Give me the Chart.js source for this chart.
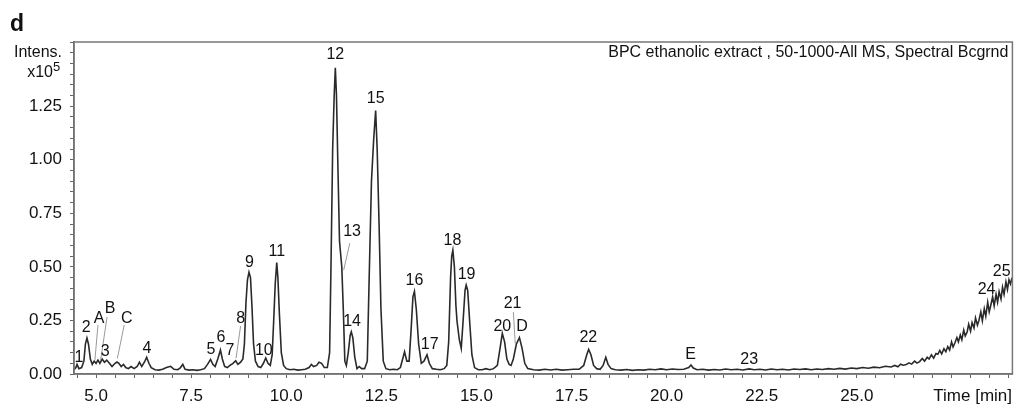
<!DOCTYPE html>
<html>
<head>
<meta charset="utf-8">
<script src="https://cdn.jsdelivr.net/npm/chart.js@4.4.0/dist/chart.umd.min.js"></script>
<style>
    body { margin: 0; background: #fff; }
    canvas { display: block; }
</style>
</head>
<body>
<canvas id="graphBPC" width="1017" height="404"></canvas>
<script>
//Datos del cromatograma (tiempo en min, intensidad en x10^5)
const tiempos = [
    4.42, 4.47, 4.50, 4.55, 4.62, 4.68, 4.72, 4.76, 4.80, 4.85,
    4.90, 4.95, 5.00, 5.05, 5.10, 5.16, 5.22, 5.28, 5.35, 5.42,
    5.50, 5.55, 5.60, 5.66, 5.72, 5.78, 5.85, 5.92, 6.00, 6.08,
    6.14, 6.20, 6.27, 6.33, 6.39, 6.45, 6.55, 6.65, 6.75, 6.85,
    6.96, 7.05, 7.15, 7.22, 7.28, 7.34, 7.45, 7.55, 7.65, 7.75,
    7.85, 7.93, 8.01, 8.07, 8.13, 8.20, 8.27, 8.32, 8.38, 8.45,
    8.52, 8.60, 8.67, 8.73, 8.80, 8.86, 8.90, 8.94, 8.98, 9.02,
    9.06, 9.10, 9.14, 9.19, 9.26, 9.33, 9.40, 9.46, 9.52, 9.58,
    9.63, 9.67, 9.71, 9.75, 9.78, 9.82, 9.87, 9.93, 10.00, 10.10,
    10.20, 10.30, 10.40, 10.50, 10.60, 10.66, 10.72, 10.80, 10.86, 10.93,
    11.00, 11.08, 11.14, 11.18, 11.22, 11.26, 11.29, 11.32, 11.36, 11.40,
    11.46, 11.50, 11.54, 11.58, 11.63, 11.68, 11.71, 11.75, 11.80, 11.86,
    11.92, 11.98, 12.06, 12.13, 12.18, 12.24, 12.30, 12.35, 12.39, 12.44,
    12.49, 12.55, 12.62, 12.72, 12.82, 12.92, 13.00, 13.06, 13.11, 13.17,
    13.23, 13.28, 13.33, 13.37, 13.42, 13.48, 13.55, 13.62, 13.70, 13.76,
    13.84, 13.95, 14.05, 14.15, 14.22, 14.27, 14.32, 14.35, 14.38, 14.42,
    14.46, 14.49, 14.55, 14.60, 14.65, 14.70, 14.73, 14.77, 14.82, 14.88,
    14.95, 15.05, 15.15, 15.25, 15.35, 15.45, 15.55, 15.62, 15.68, 15.74,
    15.80, 15.86, 15.91, 15.97, 16.05, 16.13, 16.20, 16.27, 16.35, 16.50,
    16.65, 16.80, 16.95, 17.10, 17.25, 17.40, 17.55, 17.70, 17.82, 17.90,
    17.95, 18.01, 18.08, 18.16, 18.25, 18.33, 18.40, 18.46, 18.54, 18.65,
    18.80, 18.95, 19.10, 19.25, 19.40, 19.55, 19.70, 19.85, 20.00, 20.15,
    20.30, 20.45, 20.58, 20.64, 20.70, 20.80, 20.95, 21.10, 21.25, 21.40,
    21.55, 21.70, 21.85, 22.00, 22.17, 22.30, 22.45, 22.60, 22.75, 22.90,
    23.05, 23.20, 23.35, 23.50, 23.65, 23.80, 23.95, 24.10, 24.25, 24.40,
    24.55, 24.70, 24.85, 25.00, 25.15, 25.30, 25.45, 25.60, 25.75, 25.90,
    26.00, 26.08, 26.15, 26.22, 26.30, 26.37, 26.44, 26.52, 26.58, 26.65,
    26.72, 26.78, 26.85, 26.90, 26.96, 27.02, 27.08, 27.13, 27.18, 27.23,
    27.29, 27.34, 27.39, 27.44, 27.49, 27.53, 27.58, 27.63, 27.67, 27.72,
    27.76, 27.81, 27.85, 27.90, 27.94, 27.99, 28.03, 28.08, 28.12, 28.17,
    28.21, 28.26, 28.30, 28.35, 28.39, 28.44, 28.48, 28.52, 28.57, 28.61,
    28.66, 28.70, 28.74, 28.79, 28.83, 28.87, 28.92, 28.96, 29.00, 29.04,
    29.08
];
const intensidades = [
    0.020, 0.030, 0.045, 0.025, 0.030, 0.060, 0.140, 0.168, 0.140, 0.070,
    0.045, 0.060, 0.050, 0.065, 0.050, 0.070, 0.055, 0.065, 0.050, 0.035,
    0.050, 0.056, 0.050, 0.035, 0.045, 0.030, 0.025, 0.035, 0.025, 0.035,
    0.055, 0.035, 0.055, 0.078, 0.050, 0.030, 0.020, 0.018, 0.022, 0.030,
    0.036, 0.022, 0.020, 0.030, 0.045, 0.022, 0.018, 0.020, 0.017, 0.020,
    0.025, 0.045, 0.068, 0.045, 0.035, 0.070, 0.112, 0.070, 0.035, 0.030,
    0.040, 0.050, 0.062, 0.045, 0.055, 0.070, 0.140, 0.330, 0.440, 0.475,
    0.450, 0.310, 0.140, 0.060, 0.035, 0.030, 0.050, 0.075, 0.050, 0.040,
    0.090, 0.250, 0.420, 0.520, 0.450, 0.280, 0.100, 0.040, 0.025, 0.020,
    0.022, 0.018, 0.020, 0.022, 0.030, 0.045, 0.035, 0.040, 0.055, 0.050,
    0.030, 0.030, 0.100, 0.550, 1.050, 1.300, 1.430, 1.300, 0.950, 0.620,
    0.500, 0.300, 0.060, 0.040, 0.100, 0.180, 0.197, 0.170, 0.080, 0.025,
    0.035, 0.025, 0.025, 0.060, 0.450, 0.900, 1.100, 1.230, 1.050, 0.700,
    0.300, 0.060, 0.025, 0.020, 0.022, 0.020, 0.030, 0.070, 0.104, 0.060,
    0.060, 0.200, 0.360, 0.385, 0.300, 0.140, 0.050, 0.060, 0.090, 0.050,
    0.025, 0.022, 0.020, 0.025, 0.040, 0.150, 0.450, 0.550, 0.578, 0.500,
    0.320, 0.245, 0.160, 0.120, 0.250, 0.390, 0.415, 0.390, 0.250, 0.090,
    0.030, 0.020, 0.020, 0.025, 0.020, 0.025, 0.040, 0.120, 0.190, 0.150,
    0.070, 0.045, 0.040, 0.070, 0.140, 0.170, 0.120, 0.050, 0.025, 0.020,
    0.018, 0.022, 0.019, 0.022, 0.018, 0.020, 0.022, 0.022, 0.040, 0.090,
    0.115, 0.090, 0.040, 0.025, 0.022, 0.040, 0.078, 0.045, 0.025, 0.020,
    0.018, 0.021, 0.017, 0.020, 0.018, 0.022, 0.020, 0.024, 0.020, 0.023,
    0.021, 0.022, 0.030, 0.042, 0.028, 0.020, 0.022, 0.018, 0.021, 0.019,
    0.023, 0.020, 0.022, 0.019, 0.024, 0.020, 0.022, 0.019, 0.023, 0.020,
    0.022, 0.019, 0.023, 0.021, 0.024, 0.020, 0.023, 0.021, 0.025, 0.022,
    0.026, 0.023, 0.028, 0.025, 0.030, 0.027, 0.032, 0.029, 0.036, 0.033,
    0.040, 0.034, 0.046, 0.041, 0.044, 0.052, 0.046, 0.060, 0.051, 0.058,
    0.072, 0.060, 0.078, 0.070, 0.090, 0.074, 0.096, 0.092, 0.110, 0.094,
    0.118, 0.104, 0.128, 0.112, 0.150, 0.126, 0.146, 0.170, 0.150, 0.182,
    0.160, 0.205, 0.178, 0.196, 0.232, 0.200, 0.240, 0.215, 0.262, 0.228,
    0.250, 0.290, 0.248, 0.305, 0.270, 0.335, 0.290, 0.320, 0.360, 0.318,
    0.372, 0.335, 0.385, 0.350, 0.405, 0.372, 0.430, 0.395, 0.440, 0.420,
    0.450
];

//Etiquetas de los picos (posicion en unidades del grafico)
const picos   = ['1', '2', 'A', 'B', '3', 'C', '4', '5', '6', '7', '8', '9', '10', '11', '12', '13', '14', '15', '16', '17', '18', '19', '20', '21', 'D', '22', 'E', '23', '24', '25'];
const picosT  = [4.55, 4.74, 5.08, 5.37, 5.24, 5.81, 6.34, 8.02, 8.28, 8.52, 8.80, 9.03, 9.41, 9.75, 11.29, 11.73, 11.73, 12.35, 13.37, 13.77, 14.37, 14.74, 15.68, 15.95, 16.20, 17.94, 20.63, 22.17, 28.41, 28.81];
const picosV  = [0.075, 0.215, 0.26, 0.305, 0.103, 0.26, 0.117, 0.112, 0.168, 0.107, 0.26, 0.52, 0.107, 0.57, 1.49, 0.664, 0.244, 1.287, 0.438, 0.135, 0.625, 0.466, 0.219, 0.33, 0.219, 0.168, 0.089, 0.065, 0.392, 0.476];

//Lineas guia de algunas etiquetas [t1, v1, t2, v2]
const guias = [
    [5.05, 0.229, 4.97, 0.065],
    [5.29, 0.267, 5.12, 0.065],
    [5.74, 0.229, 5.56, 0.073],
    [8.80, 0.224, 8.68, 0.074],
    [11.67, 0.611, 11.51, 0.485],
    [15.97, 0.289, 16.02, 0.142]
];

const fuente = '"Liberation Sans", Arial, Helvetica, sans-serif';

const puntos = tiempos.map((t, i) => ({ x: t, y: intensidades[i] }));

const esMultiplo = (v, paso) => Math.abs(v / paso - Math.round(v / paso)) < 1e-6;

const pluginTextos = {
    id: 'textos',
    afterDraw(chart) {
        const { ctx, chartArea, scales } = chart;
        const x = scales.x;
        const y = scales.y;
        ctx.save();

        //Marco del grafico
        ctx.strokeStyle = '#777';
        ctx.lineWidth = 1.5;
        ctx.strokeRect(chartArea.left, chartArea.top, chartArea.right - chartArea.left, chartArea.bottom - chartArea.top);

        //Guias
        ctx.strokeStyle = '#999';
        ctx.lineWidth = 1;
        guias.forEach(g => {
            ctx.beginPath();
            ctx.moveTo(x.getPixelForValue(g[0]), y.getPixelForValue(g[1]));
            ctx.lineTo(x.getPixelForValue(g[2]), y.getPixelForValue(g[3]));
            ctx.stroke();
        });

        //Numeros de los picos
        ctx.fillStyle = '#111';
        ctx.font = '16px ' + fuente;
        ctx.textAlign = 'center';
        ctx.textBaseline = 'middle';
        picos.forEach((p, i) => {
            ctx.fillText(p, x.getPixelForValue(picosT[i]), y.getPixelForValue(picosV[i]));
        });

        //Titulo de la traza
        ctx.textBaseline = 'alphabetic';
        ctx.textAlign = 'right';
        ctx.font = '16px ' + fuente;
        ctx.fillText('BPC ethanolic extract , 50-1000-All MS, Spectral Bcgrnd', chartArea.right - 4, 57);

        //Letra del panel
        ctx.textAlign = 'left';
        ctx.font = 'bold 23px ' + fuente;
        ctx.fillText('d', 10, 31);

        //Unidades del eje Y
        ctx.textAlign = 'right';
        ctx.font = '16px ' + fuente;
        ctx.fillText('Intens.', 62, 57);
        ctx.fillText('x10', 53, 77);
        ctx.textAlign = 'left';
        ctx.font = '13px ' + fuente;
        ctx.fillText('5', 53, 71);

        //Titulo del eje X
        ctx.textAlign = 'right';
        ctx.font = '17px ' + fuente;
        ctx.fillText('Time [min]', 1012, 401);

        ctx.restore();
    }
};

const config = {
    type: 'line',
    data: {
        datasets: [{
            data: puntos,
            borderColor: '#2a2a2a',
            borderWidth: 1.6,
            pointRadius: 0,
            tension: 0,
            fill: false
        }]
    },
    options: {
        responsive: false,
        animation: false,
        layout: {
            padding: { top: 42, right: 3, left: 0, bottom: 0 }
        },
        plugins: {
            legend: { display: false },
            tooltip: { enabled: false }
        },
        scales: {
            x: {
                type: 'linear',
                min: 4.42,
                max: 29.09,
                afterFit(scale) { scale.height = 30; },
                border: { color: '#666', width: 1.5 },
                grid: { drawOnChartArea: false, tickLength: 4, tickColor: '#666' },
                ticks: {
                    stepSize: 0.5,
                    includeBounds: false,
                    autoSkip: false,
                    maxRotation: 0,
                    minRotation: 0,
                    padding: 8,
                    color: '#111',
                    font: { size: 17, family: fuente },
                    callback: v => (esMultiplo(v, 2.5) && v < 27) ? v.toFixed(1) : ''
                }
            },
            y: {
                min: 0,
                max: 1.55,
                afterFit(scale) { scale.width = 74; },
                border: { color: '#666', width: 1.5 },
                grid: { drawOnChartArea: false, tickLength: 4, tickColor: '#666' },
                ticks: {
                    stepSize: 0.05,
                    includeBounds: false,
                    autoSkip: false,
                    padding: 8,
                    color: '#111',
                    font: { size: 17, family: fuente },
                    callback: v => (esMultiplo(v, 0.25) && v < 1.4) ? v.toFixed(2) : ''
                }
            }
        }
    },
    plugins: [pluginTextos]
};

new Chart(document.querySelector('#graphBPC'), config);//Crea el cromatograma
</script>
</body>
</html>
